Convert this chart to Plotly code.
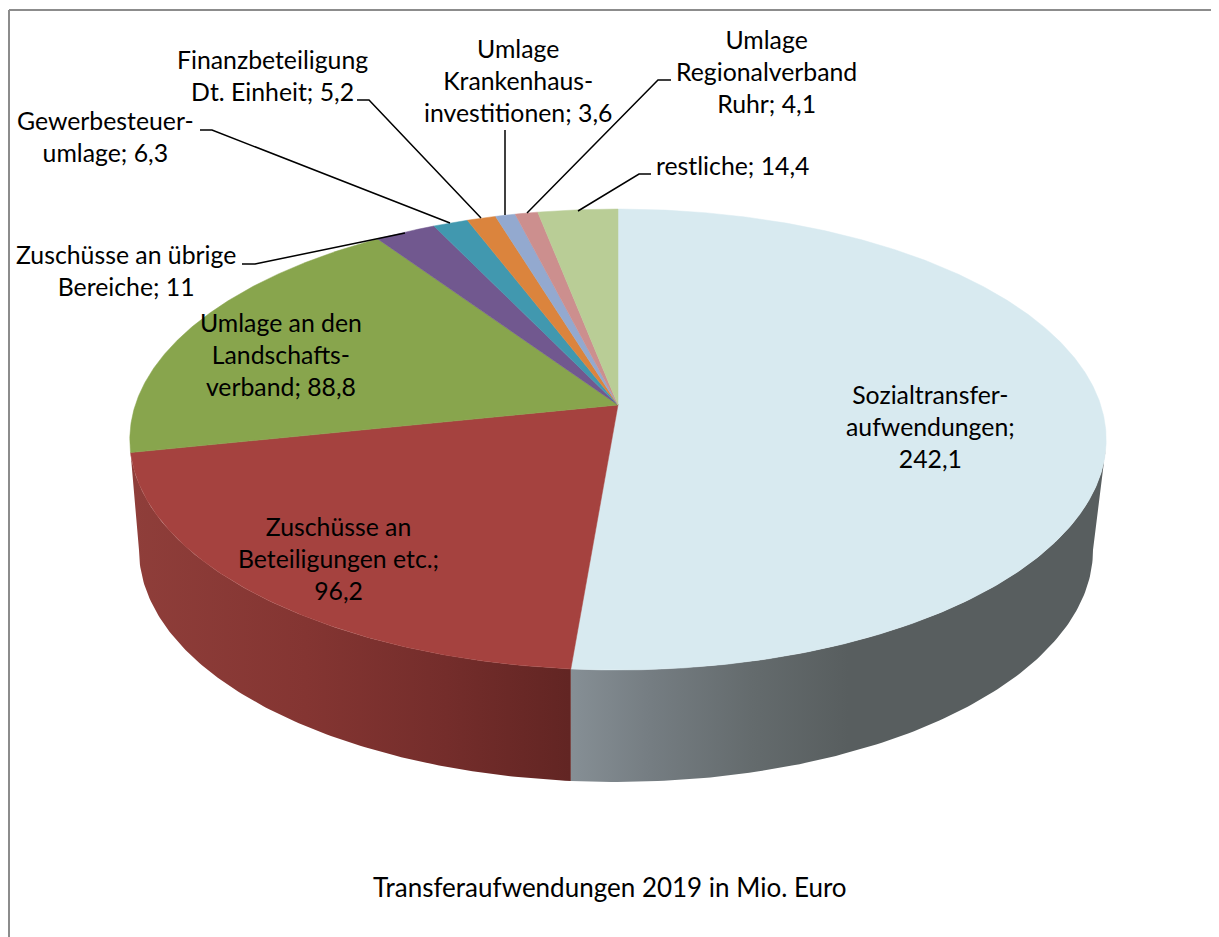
import numpy as np
import plotly.graph_objects as go

# ---- data ----
categories = ["Sozialtransfer-<br>aufwendungen", "Zuschüsse an<br>Beteiligungen etc.",
              "Umlage an den<br>Landschafts-<br>verband", "Zuschüsse an übrige<br>Bereiche",
              "Gewerbesteuer-<br>umlage", "Finanzbeteiligung<br>Dt. Einheit",
              "Umlage<br>Krankenhaus-<br>investitionen", "Umlage<br>Regionalverband<br>Ruhr", "restliche"]
values = [242.1, 96.2, 88.8, 11, 6.3, 5.2, 3.6, 4.1, 14.4]
value_on_new_line = [True, True, False, False, False, False, False, False, False]
title_text = "Transferaufwendungen 2019 in Mio. Euro"

# ---- style ----
colors = ["#D8EAF0", "#A5423F", "#88A54D", "#71588F", "#4198AF", "#DB843D", "#93A9CF", "#CC8F8E", "#B9CD96"]
label_pos = [(930, 426), (338, 558), (281, 354), (126, 270), (105, 136), (272, 75), (518, 80), (766, 71), (732, 165)]
leaders = [
    [(242, 264), (255, 264), (405, 233)],
    [(200, 130), (212, 130), (450, 223)],
    [(357, 100), (369, 100), (481, 218)],
    [(505, 130), (505, 215)],
    [(671, 80), (658, 80), (527, 213)],
    [(651, 174), (639, 174), (578, 211)],
]
FONT = "Lato"
FS = 24.8
TITLE_FS = 26

# perspective projection of the pie's top face
CX, CY, A, C, RX = 618.0, 405.0, -164.7, 0.1497, 482.7
# lower rim
LX, LY, LRX, LRY = 616.0, 550.0, 477.0, 232.0


def top(t):
    u, v = np.sin(t), np.cos(t)
    d = 1 + C * v
    return CX + RX * u / d, (A * v + CY) / d


def low(p):
    return LX + LRX * np.sin(p), LY - LRY * np.cos(p)


fracs = np.cumsum([0] + values) / sum(values) * 2 * np.pi
fig = go.Figure()

# side walls
tb1, tb2 = fracs[1], fracs[2]
xb, yb = top(tb1)
pb = np.pi + np.arcsin((LX - xb) / LRX)

tt = np.linspace(np.radians(100), tb1, 120)
pp = np.linspace(np.pi / 2, pb, 120)
x1 = np.r_[top(tt)[0], low(pp[::-1])[0]]
y1 = np.r_[top(tt)[1], low(pp[::-1])[1]]
fig.add_trace(go.Scatter(x=x1, y=y1, mode="lines", fill="toself", line=dict(width=0),
                         fillgradient=dict(type="horizontal", start=570, stop=1105,
                                           colorscale=[[0, "#868F95"], [0.15, "#757D82"], [0.34, "#646B6D"],
                                                       [0.52, "#585E5F"], [1, "#585E5F"]]),
                         hoverinfo="skip", showlegend=False))
tt = np.linspace(tb1, tb2, 120)
pp = np.linspace(pb, 3 * np.pi / 2, 120)
x2 = np.r_[top(tt)[0], low(pp[::-1])[0]]
y2 = np.r_[top(tt)[1], low(pp[::-1])[1]]
fig.add_trace(go.Scatter(x=x2, y=y2, mode="lines", fill="toself", line=dict(width=0),
                         fillgradient=dict(type="horizontal", start=130, stop=570,
                                           colorscale=[[0, "#8F3E3A"], [0.4, "#843532"], [0.72, "#742D2B"],
                                                       [1, "#622523"]]),
                         hoverinfo="skip", showlegend=False))

# top face
for i, col in enumerate(colors):
    t = np.linspace(fracs[i], fracs[i + 1], max(8, int(values[i] * 2)))
    xs, ys = top(t)
    fig.add_trace(go.Scatter(x=np.r_[CX, xs, CX], y=np.r_[CY, ys, CY], mode="lines", fill="toself",
                             fillcolor=col, line=dict(width=0.5, color=col),
                             hoverinfo="skip", showlegend=False))

# leader lines
for pts in leaders:
    fig.add_trace(go.Scatter(x=[p[0] for p in pts], y=[p[1] for p in pts], mode="lines",
                             line=dict(color="black", width=1.5), hoverinfo="skip", showlegend=False))

# labels
annotations = []
for cat, val, nl, pos in zip(categories, values, value_on_new_line, label_pos):
    txt = f"{cat};{'<br>' if nl else ' '}{str(val).replace('.', ',')}"
    annotations.append(dict(x=pos[0], y=pos[1], xref="x", yref="y", text=txt, showarrow=False,
                            xanchor="center", yanchor="middle", align="center",
                            font=dict(family=FONT, size=FS, color="black")))
annotations.append(dict(x=610, y=887, xref="x", yref="y", text=title_text, showarrow=False,
                        xanchor="center", yanchor="middle", font=dict(family=FONT, size=TITLE_FS, color="black")))

# frame (page body has an 8px margin, hence the offset ranges)
shapes = [
    dict(type="line", x0=9, x1=9, y0=10, y1=937, xref="x", yref="y", line=dict(color="#8C8C8C", width=2)),
    dict(type="line", x0=9, x1=1219, y0=10, y1=10, xref="x", yref="y", line=dict(color="#8C8C8C", width=2)),
]

fig.update_layout(width=1211, height=929, margin=dict(l=0, r=0, t=0, b=0),
                  paper_bgcolor="white", plot_bgcolor="white", annotations=annotations, shapes=shapes,
                  xaxis=dict(range=[8, 1219], visible=False, fixedrange=True),
                  yaxis=dict(range=[937, 8], visible=False, fixedrange=True))
fig.write_html("out.html")
